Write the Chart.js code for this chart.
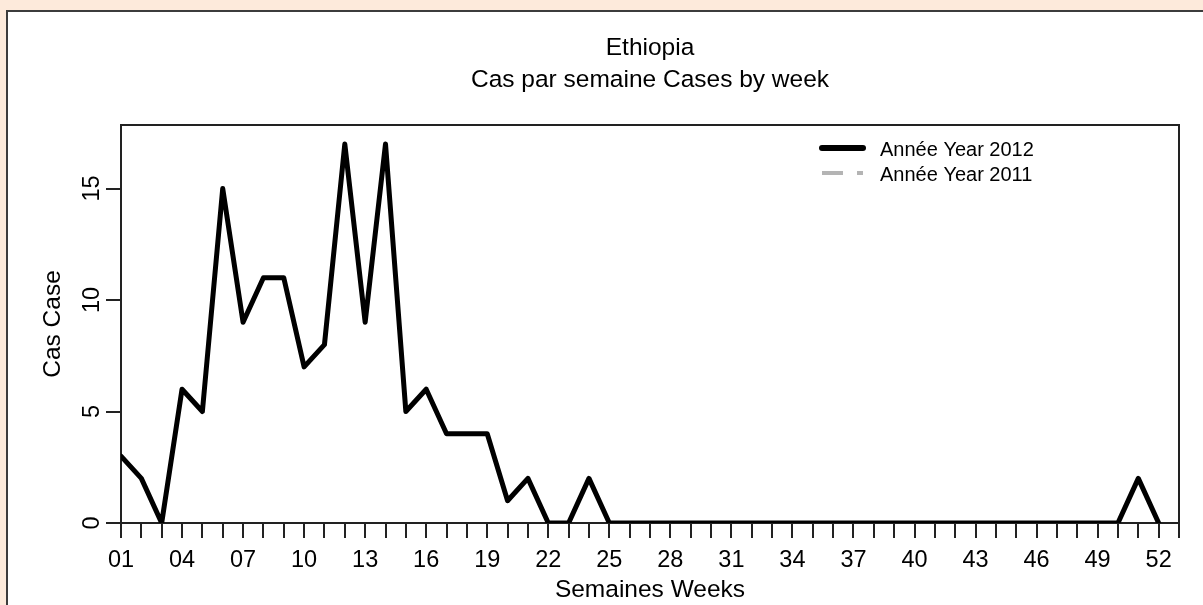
<!DOCTYPE html>
<html lang="fr">
<head>
  <meta charset="UTF-8" />
  <title>Ethiopia - Cas par semaine</title>
  <script src="https://cdn.jsdelivr.net/npm/chart.js"></script>
  <style>
    html, body {
      margin: 0;
      padding: 0;
    }
    body {
      width: 1203px;
      height: 605px;
      overflow: hidden;
      position: relative;
      background: #fdeadb;
    }
    .panel {
      position: absolute;
      left: 6px;
      top: 10px;
      width: 1230px;
      height: 640px;
      background: #fff;
      border-top: 2px solid #3c3c3c;
      border-left: 2px solid #3c3c3c;
      box-sizing: border-box;
    }
    #chart {
      position: absolute;
      left: 0;
      top: 0;
    }
  </style>
</head>
<body>
  <div class="panel"></div>
  <canvas id="chart" width="1203" height="605"></canvas>

  <script>
    const titleLines = ["Ethiopia", "Cas par semaine Cases by week"];

    const weeks = [
      1, 2, 3, 4, 5, 6, 7, 8, 9, 10, 11, 12, 13,
      14, 15, 16, 17, 18, 19, 20, 21, 22, 23, 24, 25, 26,
      27, 28, 29, 30, 31, 32, 33, 34, 35, 36, 37, 38, 39,
      40, 41, 42, 43, 44, 45, 46, 47, 48, 49, 50, 51, 52
    ];

    // Année 2012, cas par semaine
    const cases2012 = [
      3, 2, 0, 6, 5, 15, 9, 11, 11, 7, 8, 17, 9,
      17, 5, 6, 4, 4, 4, 1, 2, 0, 0, 2, 0, 0,
      0, 0, 0, 0, 0, 0, 0, 0, 0, 0, 0, 0, 0,
      0, 0, 0, 0, 0, 0, 0, 0, 0, 0, 0, 2, 0
    ];

    // Année 2011 : aucune donnée tracée
    const cases2011 = [];

    const xTickLabels = ["01", "04", "07", "10", "13", "16", "19", "22", "25",
                         "28", "31", "34", "37", "40", "43", "46", "49", "52"];
    const yTickValues = [0, 5, 10, 15];

    const FONT = '"Liberation Sans", Arial, sans-serif';
    const INK = "#000";
    const AXIS = "#222";

    function toPoints(values) {
      return values.map((v, i) => ({ x: weeks[i], y: v }));
    }

    // titre au-dessus de la zone du graphe
    const headerPlugin = {
      id: "header",
      afterDraw(chart) {
        const { ctx, chartArea } = chart;
        const cx = (chartArea.left + chartArea.right) / 2;
        ctx.save();
        ctx.fillStyle = INK;
        ctx.font = "24.5px " + FONT;
        ctx.textAlign = "center";
        ctx.textBaseline = "alphabetic";
        ctx.fillText(titleLines[0], cx, 55);
        ctx.fillText(titleLines[1], cx, 87);
        ctx.restore();
      }
    };

    // cadre autour de la zone du graphe
    const boxPlugin = {
      id: "plotBox",
      beforeDatasetsDraw(chart) {
        const { ctx, chartArea } = chart;
        ctx.save();
        ctx.strokeStyle = AXIS;
        ctx.lineWidth = 2;
        ctx.strokeRect(chartArea.left, chartArea.top,
                       chartArea.right - chartArea.left, chartArea.bottom - chartArea.top);
        ctx.restore();
      }
    };

    // légende dans le coin haut droit
    const legendPlugin = {
      id: "cornerLegend",
      afterDraw(chart) {
        const { ctx, chartArea } = chart;
        const x0 = chartArea.left + 701;
        const x1 = chartArea.left + 742;
        const tx = chartArea.left + 759;
        ctx.save();
        chart.data.datasets.forEach((ds, i) => {
          const y = chartArea.top + 23 + i * 25;
          ctx.beginPath();
          ctx.strokeStyle = ds.borderColor;
          ctx.lineWidth = ds.legendWidth;
          ctx.lineCap = ds.borderCapStyle || "butt";
          ctx.setLineDash(ds.borderDash || []);
          ctx.moveTo(x0, y);
          ctx.lineTo(x1, y);
          ctx.stroke();
          ctx.setLineDash([]);
          ctx.fillStyle = INK;
          ctx.font = "20px " + FONT;
          ctx.textAlign = "left";
          ctx.textBaseline = "middle";
          ctx.fillText(ds.label, tx, y + 2);
        });
        ctx.restore();
      }
    };

    new Chart(document.getElementById("chart"), {
      type: "line",
      data: {
        datasets: [
          {
            label: "Année Year 2012",
            data: toPoints(cases2012),
            borderColor: "#000",
            borderWidth: 5,
            legendWidth: 6,
            borderCapStyle: "round",
            borderJoinStyle: "round",
            pointRadius: 0,
            tension: 0,
            fill: false
          },
          {
            label: "Année Year 2011",
            data: toPoints(cases2011),
            borderColor: "#b4b4b4",
            borderWidth: 3,
            legendWidth: 4,
            borderDash: [21, 14],
            pointRadius: 0,
            tension: 0,
            fill: false
          }
        ]
      },
      options: {
        responsive: false,
        animation: false,
        layout: { padding: { left: 0, top: 125, right: 24, bottom: 0 } },
        plugins: {
          legend: { display: false },
          tooltip: { enabled: false },
          title: { display: false }
        },
        scales: {
          x: {
            type: "linear",
            min: 1,
            max: 53,
            afterFit(scale) { scale.height = 82; },
            ticks: {
              stepSize: 1,
              maxTicksLimit: 100,
              autoSkip: false,
              maxRotation: 0,
              minRotation: 0,
              padding: 8,
              color: INK,
              font: { family: FONT, size: 23.5 },
              callback(value) {
                const s = String(value).padStart(2, "0");
                return xTickLabels.includes(s) ? s : "";
              }
            },
            grid: {
              drawOnChartArea: false,
              drawTicks: true,
              tickLength: 15,
              color: AXIS,
              lineWidth: 2
            },
            border: { display: true, color: AXIS, width: 2 },
            title: {
              display: true,
              text: "Semaines Weeks",
              color: INK,
              font: { family: FONT, size: 24.5 },
              padding: { top: 0, bottom: 0 }
            }
          },
          y: {
            min: 0,
            max: 17.85,
            afterFit(scale) { scale.width = 121; },
            afterBuildTicks(scale) {
              scale.ticks = yTickValues.map(v => ({ value: v }));
            },
            ticks: {
              minRotation: 90,
              maxRotation: 90,
              crossAlign: "center",
              padding: 0,
              color: INK,
              font: { family: FONT, size: 23.5 }
            },
            grid: {
              drawOnChartArea: false,
              drawTicks: true,
              tickLength: 15,
              color: AXIS,
              lineWidth: 2
            },
            border: { display: true, color: AXIS, width: 2 },
            title: {
              display: true,
              text: "Cas Case",
              color: INK,
              font: { family: FONT, size: 24.5 },
              padding: { top: 39, bottom: 0 }
            }
          }
        }
      },
      plugins: [boxPlugin, headerPlugin, legendPlugin]
    });
  </script>
</body>
</html>
